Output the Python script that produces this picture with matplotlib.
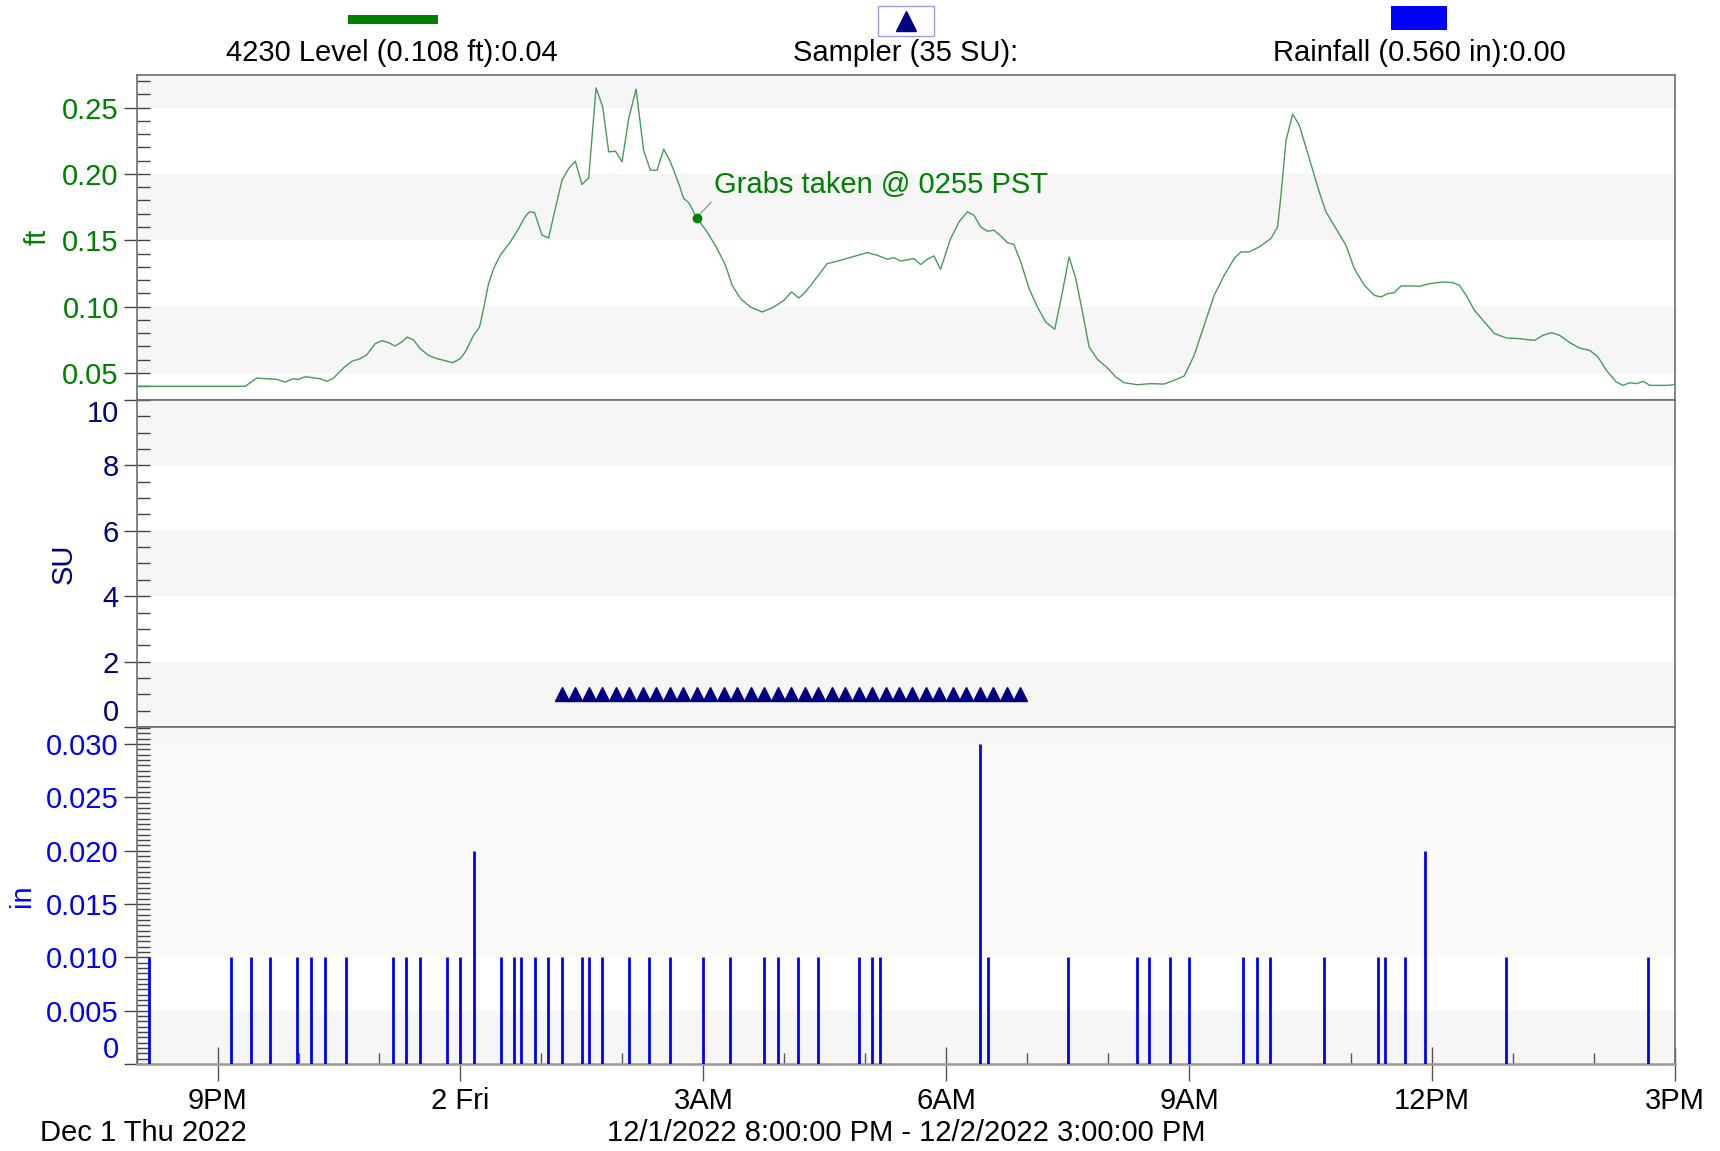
import numpy as np
import matplotlib.pyplot as plt
from matplotlib.patches import Rectangle
from matplotlib.lines import Line2D
from matplotlib.ticker import MultipleLocator

plt.rcParams['font.family'] = ['Liberation Sans', 'DejaVu Sans']

# ---- datos (horas desde 12/1/2022 8:00 PM) ----
level_hours = [0.0, 1.34, 1.484, 1.608, 1.732, 1.834, 1.937, 1.999, 2.082, 2.205, 2.267, 2.35, 2.432,
               2.555, 2.659, 2.761, 2.844, 2.947, 3.03, 3.111, 3.194, 3.277, 3.339, 3.421, 3.503, 3.606,
               3.71, 3.812, 3.907, 3.997, 4.059, 4.162, 4.236, 4.286, 4.347, 4.409, 4.492, 4.616, 4.719,
               4.79, 4.85, 4.916, 5.007, 5.089, 5.172, 5.254, 5.336, 5.419, 5.501, 5.584, 5.675, 5.757,
               5.831, 5.914, 5.996, 6.078, 6.169, 6.263, 6.346, 6.428, 6.511, 6.593, 6.696, 6.758, 6.82,
               6.917, 7.047, 7.17, 7.273, 7.356, 7.459, 7.582, 7.727, 7.871, 7.995, 8.089, 8.18, 8.262,
               8.406, 8.53, 8.694, 8.88, 9.024, 9.148, 9.272, 9.354, 9.436, 9.601, 9.683, 9.766, 9.848,
               9.93, 10.054, 10.157, 10.26, 10.342, 10.425, 10.508, 10.59, 10.672, 10.755, 10.837, 10.92,
               11.023, 11.126, 11.229, 11.34, 11.435, 11.517, 11.6, 11.682, 11.765, 11.868, 11.992,
               12.094, 12.197, 12.362, 12.527, 12.691, 12.815, 12.938, 13.062, 13.186, 13.309, 13.433,
               13.556, 13.639, 13.742, 13.865, 14.01, 14.092, 14.134, 14.196, 14.278, 14.36, 14.484,
               14.607, 14.69, 14.814, 14.937, 15.04, 15.164, 15.287, 15.37, 15.452, 15.535, 15.617,
               15.741, 15.844, 15.968, 16.132, 16.256, 16.338, 16.421, 16.524, 16.648, 16.771, 16.916,
               17.081, 17.267, 17.37, 17.473, 17.576, 17.7, 17.823, 17.947, 18.05, 18.153, 18.277,
               18.359, 18.442, 18.524, 18.614, 18.689, 18.895, 19.0]
level_ft = [0.040, 0.040, 0.0462, 0.0457, 0.0452, 0.0432, 0.0457, 0.0452, 0.0472, 0.0462, 0.0457, 0.0437, 0.0462,
            0.0538, 0.0588, 0.0608, 0.0638, 0.0721, 0.0744, 0.0729, 0.0704, 0.0734, 0.0771, 0.0749, 0.0683, 0.0633,
            0.0608, 0.0593, 0.0578, 0.0608, 0.0658, 0.0784, 0.0847, 0.0985, 0.1173, 0.1286, 0.1387, 0.1487, 0.1588,
            0.167, 0.1714, 0.1709, 0.1538, 0.1518, 0.1739, 0.1952, 0.2040, 0.2096, 0.1920, 0.1970, 0.2648, 0.2505,
            0.2166, 0.2171, 0.2091, 0.2417, 0.2638, 0.2176, 0.2028, 0.2028, 0.2186, 0.2091, 0.1927, 0.1814, 0.1784,
            0.167, 0.1563, 0.1437, 0.1312, 0.1161, 0.106, 0.0997, 0.096, 0.0997, 0.1048, 0.1111, 0.1065, 0.1111,
            0.1224, 0.1324, 0.1349, 0.1382, 0.1407, 0.1387, 0.1357, 0.1369, 0.1344, 0.1362, 0.1317, 0.1357, 0.1382,
            0.1281, 0.1513, 0.1638, 0.1714, 0.1689, 0.1601, 0.1568, 0.1576, 0.1533, 0.1482, 0.1467, 0.1337,
            0.1136, 0.0997, 0.0884, 0.0829, 0.1111, 0.1374, 0.1211, 0.096, 0.0696, 0.0603, 0.0538,
            0.047, 0.0427, 0.0412, 0.042, 0.0417, 0.0445, 0.0477, 0.0633, 0.0859, 0.1085, 0.1236,
            0.1362, 0.1412, 0.1412, 0.145, 0.1513, 0.1601, 0.1839, 0.2250, 0.2450, 0.2367, 0.2116,
            0.1864, 0.1714, 0.1588, 0.1462, 0.1286, 0.1161, 0.1085, 0.1073, 0.1098, 0.1106, 0.1156,
            0.1156, 0.1153, 0.1173, 0.1186, 0.1181, 0.1161, 0.1085, 0.0972, 0.0884, 0.0797, 0.0764,
            0.0759, 0.0746, 0.0784, 0.0804, 0.0784, 0.0729, 0.0688, 0.0671, 0.0621, 0.052, 0.0432,
            0.0407, 0.0427, 0.042, 0.0437, 0.0407, 0.0407, 0.0412]

grab_time = "02:55"
grab_level = 0.167

sampler_times = ["01:15", "01:25", "01:35", "01:45", "01:55", "02:05", "02:15", "02:25", "02:35",
                 "02:45", "02:55", "03:05", "03:15", "03:25", "03:35", "03:45", "03:55", "04:05",
                 "04:15", "04:25", "04:35", "04:45", "04:55", "05:05", "05:15", "05:25", "05:35",
                 "05:45", "05:55", "06:05", "06:15", "06:25", "06:35", "06:45", "06:55"]
sampler_su = [1] * len(sampler_times)

rain_times = ["20:09", "21:10", "21:25", "21:39", "21:59", "22:09", "22:20", "22:35", "23:10", "23:20",
              "23:30", "23:50", "00:00", "00:10", "00:30", "00:40", "00:45", "00:55", "01:05", "01:15",
              "01:30", "01:35", "01:45", "02:05", "02:20", "02:35", "03:00", "03:20", "03:45", "03:55",
              "04:10", "04:25", "04:55", "05:05", "05:11", "06:25", "06:31", "07:30", "08:21", "08:30",
              "08:46", "09:00", "09:40", "09:50", "10:00", "10:40", "11:20", "11:25", "11:40", "11:55",
              "12:55", "14:40"]
rain_in = [0.01] * len(rain_times)
rain_in[13] = 0.02
rain_in[35] = 0.03
rain_in[49] = 0.02

x_ticks = [1, 4, 7, 10, 13, 16, 19]
x_labels = ["9PM", "2 Fri", "3AM", "6AM", "9AM", "12PM", "3PM"]


def hrs(clock):
    h, m = map(int, clock.split(':'))
    if h < 20:
        h += 24
    return h - 20 + m / 60.0


verde = '#008000'
marino = '#000080'
azul = '#0000ff'
gris_borde = '#6e6e6e'
banda = '#f6f6f6'
FS = 21

fig = plt.figure(figsize=(17.2, 11.51), dpi=100)
ax1 = fig.add_axes([0.0794, 0.6525, 0.8944, 0.2827])
ax2 = fig.add_axes([0.0794, 0.3684, 0.8944, 0.2841])
ax3 = fig.add_axes([0.0794, 0.0756, 0.8944, 0.2928])


def estilo(ax, color, ticks, labels, minor, ylim, bandas, bajo=False, alto=False):
    ax.set_xlim(0, 19)
    ax.set_ylim(*ylim)
    for lo, hi, c in bandas:
        ax.axhspan(lo, hi, color=c, lw=0, zorder=0)
    ax.set_yticks(ticks, labels=labels)
    ax.yaxis.set_minor_locator(MultipleLocator(minor))
    ax.tick_params(axis='y', which='major', direction='inout', length=18.5, width=1,
                   color='#444444', labelcolor=color, labelsize=FS, pad=3.5)
    ax.tick_params(axis='y', which='minor', direction='in', length=9, width=1, color='#444444')
    for s in ax.spines.values():
        s.set_color(gris_borde)
        s.set_linewidth(1.2)
    tk = ax.yaxis.get_major_ticks()
    if bajo:
        tk[0].label1.set_va('bottom')
    if alto:
        tk[-1].label1.set_va('top')


def etiqueta_y(ax, texto, color, x):
    ax.set_ylabel(texto, color=color, fontsize=FS, va='center')
    ax.yaxis.set_label_coords(x, 0.5)


# panel nivel
estilo(ax1, verde, [0.05, 0.10, 0.15, 0.20, 0.25], ['0.05', '0.10', '0.15', '0.20', '0.25'],
       0.01, (0.0297, 0.2748),
       [(0.25, 0.2748, banda), (0.15, 0.20, banda), (0.05, 0.10, banda)])
ax1.plot(level_hours, level_ft, color='#4a9a5a', lw=1.0, zorder=3)
ax1.plot([hrs(grab_time)], [grab_level], 'o', color=verde, ms=6, zorder=4)
ax1.annotate("Grabs taken @ 0255 PST", xy=(hrs(grab_time), grab_level), xytext=(7.13, 0.1914),
             color=verde, fontsize=FS, va='center', ha='left',
             arrowprops=dict(arrowstyle='-', color='#6a9a6a', lw=0.8, shrinkA=0, shrinkB=3, relpos=(0, 0)))
etiqueta_y(ax1, "ft", verde, -0.0641)
ax1.tick_params(axis='x', which='both', bottom=False, labelbottom=False)

# panel muestreador
estilo(ax2, marino, [0, 2, 4, 6, 8, 10], ['0', '2', '4', '6', '8', '10'], 0.5, (0, 10),
       [(0, 2, banda), (4, 6, banda), (8, 10, banda)], bajo=True, alto=True)
ax2.plot([hrs(t) for t in sampler_times], sampler_su, '^', color=marino, ms=9.6, zorder=3)
etiqueta_y(ax2, "SU", marino, -0.0472)
ax2.tick_params(axis='x', which='both', bottom=False, labelbottom=False)

# panel lluvia
estilo(ax3, azul, [0, 0.005, 0.010, 0.015, 0.020, 0.025, 0.030],
       ['0', '0.005', '0.010', '0.015', '0.020', '0.025', '0.030'], 0.0005, (0, 0.0316),
       [(0, 0.005, banda), (0.010, 0.030, '#fafafa'), (0.030, 0.0316, banda)], bajo=True)
ax3.vlines([hrs(t) for t in rain_times], 0, rain_in, color=azul, lw=2.0, zorder=3)
etiqueta_y(ax3, "in", azul, -0.0745)
ax3.set_xticks(x_ticks, labels=x_labels)
ax3.xaxis.set_minor_locator(MultipleLocator(1))
ax3.tick_params(axis='x', which='major', direction='inout', length=24, width=1, color='#555555',
                labelsize=FS, pad=4.5)
ax3.tick_params(axis='x', which='minor', direction='in', length=8, width=1, color='#555555')
ax3.spines['bottom'].set_color('#999999')
ax3.spines['bottom'].set_linewidth(1.8)

# leyenda superior
fig.add_artist(Rectangle((0.2022, 0.9791), 0.0527, 0.0078, transform=fig.transFigure,
                         facecolor=verde, edgecolor='none'))
fig.add_artist(Rectangle((0.5106, 0.969), 0.0324, 0.0261, transform=fig.transFigure,
                         facecolor='white', edgecolor='#9f9fe0', lw=1))
fig.add_artist(Line2D([0.5267], [0.9818], marker='^', ms=14, color=marino, lw=0,
                      transform=fig.transFigure))
fig.add_artist(Rectangle((0.8087, 0.9743), 0.0326, 0.0209, transform=fig.transFigure,
                         facecolor=azul, edgecolor='none'))
fig.text(0.2279, 0.9542, "4230 Level (0.108 ft):0.04", ha='center', va='center', fontsize=FS)
fig.text(0.5265, 0.9542, "Sampler (35 SU):", ha='center', va='center', fontsize=FS)
fig.text(0.8253, 0.9542, "Rainfall (0.560 in):0.00", ha='center', va='center', fontsize=FS)

fig.text(0.0831, 0.0156, "Dec 1 Thu 2022", ha='center', va='center', fontsize=FS)
fig.text(0.5267, 0.0156, "12/1/2022 8:00:00 PM - 12/2/2022 3:00:00 PM", ha='center', va='center',
         fontsize=FS)

fig.savefig("out.png", dpi=100)
